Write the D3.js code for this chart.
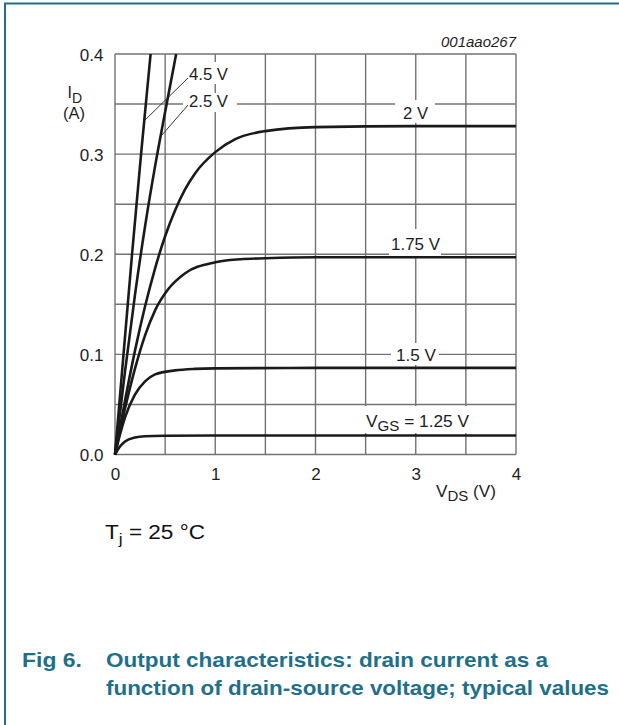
<!DOCTYPE html>
<html>
<head>
<meta charset="utf-8">
<script src="https://cdn.jsdelivr.net/npm/d3@7"></script>
<style>
  html, body { margin: 0; padding: 0; background: #fff; }
  svg { display: block; }
  text { font-family: "Liberation Sans", Arial, sans-serif; }
</style>
</head>
<body>
<svg id="chart" width="619" height="725"></svg>
<script>
// Output characteristics: I_D versus V_DS for several gate-source voltages
const xTicks = [0, 1, 2, 3, 4];
const yTicks = [0.0, 0.1, 0.2, 0.3, 0.4];
const xGrid = [0, 0.5, 1, 1.5, 2, 2.5, 3, 3.5, 4];
const yGrid = [0, 0.05, 0.1, 0.15, 0.2, 0.25, 0.3, 0.35, 0.4];

// [V_DS (V), I_D (A)]
const vgs450 = [[0,0],[0.085,0.1],[0.17,0.2],[0.26,0.3],[0.355,0.4]];
const vgs250 = [[0,0],[0.1,0.083],[0.2,0.16],[0.3,0.228],[0.4,0.288],[0.5,0.342],[0.61,0.4]];
const vgs200 = [[0,0],[0.1,0.054],[0.2,0.104],[0.3,0.148],[0.4,0.186],[0.5,0.218],[0.6,0.244],[0.7,0.265],[0.8,0.281],[1.0,0.302],[1.2,0.315],[1.5,0.323],[2,0.327],[3,0.328],[4,0.328]];
const vgs175 = [[0,0],[0.1,0.046],[0.2,0.086],[0.3,0.119],[0.4,0.144],[0.53,0.165],[0.7,0.181],[1.0,0.192],[1.25,0.195],[1.5,0.196],[2,0.197],[3,0.197],[4,0.197]];
const vgs150 = [[0,0],[0.05,0.02],[0.1,0.037],[0.2,0.06],[0.3,0.073],[0.4,0.08],[0.6,0.084],[0.8,0.0855],[1,0.086],[2,0.0865],[4,0.0865]];
const vgs125 = [[0,0],[0.05,0.008],[0.1,0.013],[0.2,0.017],[0.3,0.0182],[0.5,0.0187],[1,0.019],[4,0.019]];

const curves = [vgs450, vgs250, vgs200, vgs175, vgs150, vgs125];

const svg = d3.select("#chart");
const teal = "#1f6f8b";
const ink = "#1e1e1e";

// page frame
svg.append("line").attr("x1", 4).attr("x2", 619).attr("y1", 3.5).attr("y2", 3.5)
  .attr("stroke", teal).attr("stroke-width", 2);
svg.append("line").attr("x1", 5).attr("x2", 5).attr("y1", 3).attr("y2", 725)
  .attr("stroke", teal).attr("stroke-width", 2);

const x = d3.scaleLinear().domain([0, 4]).range([115, 516]);
const y = d3.scaleLinear().domain([0, 0.4]).range([454.5, 54]);

// grid
const grid = svg.append("g").attr("stroke", "#737373").attr("stroke-width", 1.4);
grid.selectAll("line.v").data(xGrid).join("line").attr("class", "v")
  .attr("x1", d => x(d)).attr("x2", d => x(d))
  .attr("y1", y(0)).attr("y2", y(0.4));
grid.selectAll("line.h").data(yGrid).join("line").attr("class", "h")
  .attr("x1", x(0)).attr("x2", x(4))
  .attr("y1", d => y(d)).attr("y2", d => y(d));

// axes (labels only; the grid forms the frame)
const fs = 16;
const tfs = 17;
const yAxis = svg.append("g").attr("transform", `translate(${x(0) - 11.5},0)`)
  .call(d3.axisLeft(y).tickValues(yTicks).tickSize(0).tickFormat(d3.format(".1f")));
yAxis.select(".domain").remove();
yAxis.selectAll("text").attr("font-size", tfs).attr("fill", ink)
  .attr("font-family", "'Liberation Sans', Arial, sans-serif").attr("dy", "0.36em").attr("x", 0);

const xAxis = svg.append("g").attr("transform", `translate(0,479.5)`)
  .call(d3.axisBottom(x).tickValues(xTicks).tickSize(0).tickFormat(d3.format("d")));
xAxis.select(".domain").remove();
xAxis.selectAll("text").attr("font-size", tfs).attr("fill", ink)
  .attr("font-family", "'Liberation Sans', Arial, sans-serif").attr("dy", 0).attr("y", 0);

// white boxes behind the curve labels
const boxes = [
  { x0: 186, x1: 232, y0: 62, y1: 84 },
  { x0: 183, x1: 237, y0: 93, y1: 112 },
  { x0: 395, x1: 435, y0: 100, y1: 123 },
  { x0: 389, x1: 441, y0: 229, y1: 256 },
  { x0: 391, x1: 439, y0: 343, y1: 365 },
  { x0: 362, x1: 472, y0: 406, y1: 433 }
];
svg.selectAll("rect.box").data(boxes).join("rect").attr("class", "box")
  .attr("x", d => d.x0).attr("width", d => d.x1 - d.x0)
  .attr("y", d => d.y0).attr("height", d => d.y1 - d.y0).attr("fill", "#fff");

// curves
const line = d3.line().x(d => x(d[0])).y(d => y(d[1])).curve(d3.curveMonotoneX);
svg.append("g").selectAll("path").data(curves).join("path")
  .attr("d", line).attr("fill", "none").attr("stroke", "#1a1a1a")
  .attr("stroke-width", 2.6).attr("stroke-linejoin", "round");

// curve labels
const lbl = svg.append("g").attr("font-size", fs).attr("fill", ink);
const plain = [
  { t: "4.5 V", x: 189, y: 79.5, w: 39 },
  { t: "2.5 V", x: 189, y: 107, w: 39 },
  { t: "2 V", x: 403, y: 119, w: 25 },
  { t: "1.75 V", x: 391, y: 250, w: 49 },
  { t: "1.5 V", x: 396, y: 361, w: 40 }
];
lbl.selectAll("text.c").data(plain).join("text").attr("class", "c")
  .attr("x", d => d.x).attr("y", d => d.y)
  .attr("textLength", d => d.w).attr("lengthAdjust", "spacingAndGlyphs")
  .text(d => d.t);
const vgsT = lbl.append("text").attr("x", 366).attr("y", 427)
  .attr("textLength", 103).attr("lengthAdjust", "spacingAndGlyphs");
vgsT.append("tspan").text("V");
vgsT.append("tspan").attr("dy", 4).attr("font-size", 14).text("GS");
vgsT.append("tspan").attr("dy", -4).text(" = 1.25 V");

// leader lines
const leaders = svg.append("g").attr("stroke", ink).attr("stroke-width", 0.9);
leaders.append("line").attr("x1", 145).attr("y1", 120).attr("x2", 188).attr("y2", 78);
leaders.append("line").attr("x1", 162).attr("y1", 135).attr("x2", 188).attr("y2", 105);

// axis titles
const idT = svg.append("text").attr("x", 67.5).attr("y", 98).attr("font-size", fs).attr("fill", ink);
idT.append("tspan").text("I");
idT.append("tspan").attr("dy", 5).attr("font-size", 14).text("D");
svg.append("text").attr("x", 63).attr("y", 119)
  .attr("textLength", 22).attr("lengthAdjust", "spacingAndGlyphs")
  .attr("font-size", fs).attr("fill", ink).text("(A)");

const vdsT = svg.append("text").attr("x", 436).attr("y", 497).attr("font-size", fs).attr("fill", ink)
  .attr("textLength", 60).attr("lengthAdjust", "spacingAndGlyphs");
vdsT.append("tspan").text("V");
vdsT.append("tspan").attr("dy", 4).attr("font-size", 14).text("DS");
vdsT.append("tspan").attr("dy", -4).text(" (V)");

svg.append("text").attr("x", 441).attr("y", 47)
  .attr("textLength", 75).attr("lengthAdjust", "spacingAndGlyphs")
  .attr("font-size", 14).attr("font-style", "italic").attr("fill", ink).text("001aao267");

// junction temperature note
const tj = svg.append("text").attr("x", 105).attr("y", 538.5).attr("font-size", 19.5).attr("fill", "#111")
  .attr("textLength", 100).attr("lengthAdjust", "spacingAndGlyphs");
tj.append("tspan").text("T");
tj.append("tspan").attr("dy", 5).attr("font-size", 15).text("j");
tj.append("tspan").attr("dy", -5).text(" = 25 °C");

// caption
const cap = svg.append("g").attr("fill", teal).attr("font-size", 20.5).attr("font-weight", "bold");
cap.append("text").attr("x", 22).attr("y", 667).attr("textLength", 60).attr("lengthAdjust", "spacingAndGlyphs").text("Fig 6.");
cap.append("text").attr("x", 106).attr("y", 667).attr("textLength", 442).attr("lengthAdjust", "spacingAndGlyphs")
  .text("Output characteristics: drain current as a");
cap.append("text").attr("x", 106).attr("y", 695).attr("textLength", 503).attr("lengthAdjust", "spacingAndGlyphs")
  .text("function of drain-source voltage; typical values");
</script>
</body>
</html>
